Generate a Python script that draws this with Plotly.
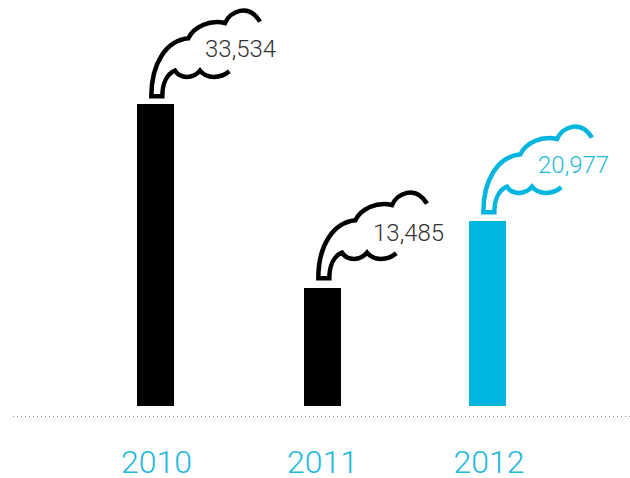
import plotly.graph_objects as go

years = [2010, 2011, 2012]
bar_x = [2010, 2011.006, 2012]
tick_x = [2010.006, 2011.006, 2012.009]
labels = ["33,534", "13,485", "20,977"]
bar_heights = [33534, 13100, 20540]   # bar heights as drawn in the picture
colors = ["#000000", "#000000", "#00B5DE"]
text_colors = ["#333333", "#333333", "#1DB8DE"]
smoke_lift = [1, 3, 2]
label_nudge = [(85, 55), (86, 55), (86, 56)]
YEAR_COLOR = "#1DB8DE"
UNITS_PER_PX = 33534 / 302
PX_PER_YEAR = 166

def smoke_path(dy):
    def p(zx, zy):
        return f"{(zx - 76.5) / 3:.2f},{(312 - zy) / 3 + dy:.2f}"
    return (
        f"M{p(390,68)} C{p(355,10)} {p(300,38)} {p(285,72)} "
        f"C{p(240,60)} {p(190,85)} {p(175,118)} "
        f"C{p(110,125)} {p(64,190)} {p(64,292)} "
        f"L{p(97,292)} C{p(97,255)} {p(110,225)} {p(135,215)} "
        f"C{p(150,240)} {p(190,240)} {p(210,215)} "
        f"C{p(230,240)} {p(270,240)} {p(298,217)}"
    )

fig = go.Figure(go.Bar(x=bar_x, y=bar_heights, marker_color=colors, marker_line_width=0,
                       width=37 / PX_PER_YEAR, hoverinfo="skip"))

for xv, h, c, lift in zip(bar_x, bar_heights, colors, smoke_lift):
    fig.add_shape(type="path", xref="x", yref="y", xsizemode="pixel", ysizemode="pixel",
                  xanchor=xv, yanchor=h, path=smoke_path(lift),
                  line=dict(color=c, width=4.5), fillcolor="rgba(0,0,0,0)", layer="above")

for xv, h, t, c, (sx, sy) in zip(bar_x, bar_heights, labels, text_colors, label_nudge):
    fig.add_annotation(x=xv, y=h, text=t, showarrow=False, xanchor="center", yanchor="middle",
                       xshift=sx, yshift=sy, font=dict(family="Roboto Light, Roboto", size=24, color=c))

x0 = 2010 - 155.5 / PX_PER_YEAR
fig.add_shape(type="line", xref="x", yref="y", x0=x0 + 13 / PX_PER_YEAR, x1=x0 + 630 / PX_PER_YEAR,
              y0=-10.5 * UNITS_PER_PX, y1=-10.5 * UNITS_PER_PX,
              line=dict(color="#8a8a8a", width=1, dash="1px,3px"))

fig.update_layout(
    width=630, height=478, margin=dict(l=0, r=0, t=0, b=61),
    paper_bgcolor="white", plot_bgcolor="white", showlegend=False,
    xaxis=dict(range=[x0, x0 + 630 / PX_PER_YEAR], tickvals=tick_x, ticktext=[str(y) for y in years],
               showgrid=False, zeroline=False, showline=False, ticks="", automargin=False,
               ticklabelstandoff=23, tickfont=dict(family="Roboto Light, Roboto", size=32, color=YEAR_COLOR)),
    yaxis=dict(range=[-11 * UNITS_PER_PX, 406 * UNITS_PER_PX], visible=False, automargin=False),
)
fig.write_html("out.html", config={"displayModeBar": False},
               post_script="document.body.style.margin='0';")
